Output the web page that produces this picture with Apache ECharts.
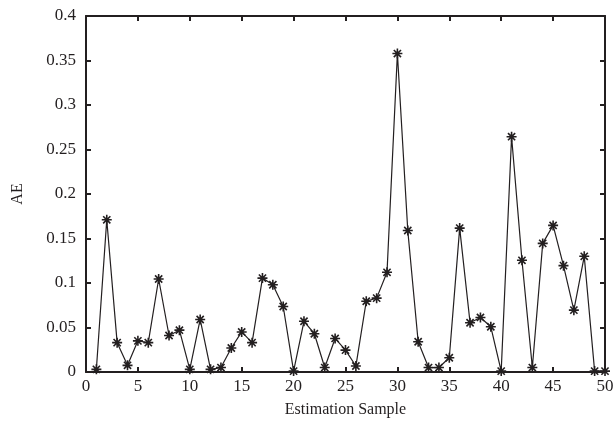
<!DOCTYPE html>
<html>
<head>
<meta charset="utf-8">
<script src="https://cdn.jsdelivr.net/npm/echarts@6/dist/echarts.min.js"></script>
<style>
  html, body { margin: 0; padding: 0; background: #fff; }
  #chart { width: 615px; height: 430px; }
</style>
</head>
<body>
<div id="chart"></div>
<script>
  // samples 1..50 and their absolute error
  const samples = [];
  for (let i = 1; i <= 50; i++) samples.push(i);
  const aeValues = [
    0.003, 0.171, 0.033, 0.0075, 0.035, 0.033, 0.1045, 0.041, 0.047, 0.003,
    0.059, 0.003, 0.005, 0.027, 0.045, 0.033, 0.1055, 0.098, 0.0736, 0.001,
    0.057, 0.043, 0.005, 0.0377, 0.0246, 0.0067, 0.0795, 0.083, 0.112, 0.3578,
    0.159, 0.034, 0.005, 0.005, 0.016, 0.1617, 0.0553, 0.0613, 0.0508, 0.001,
    0.2644, 0.1255, 0.005, 0.1445, 0.1647, 0.1195, 0.0695, 0.13, 0.001, 0.001
  ];

  const font = '"Liberation Serif", "DejaVu Serif", serif';
  const ink = '#231f20';
  const asterisk = 'path://M-1,0L1,0M0,-1L0,1M-0.72,-0.72L0.72,0.72M0.72,-0.72L-0.72,0.72';

  const frameAxis = {
    axisLine: { show: true, onZero: false, lineStyle: { color: ink, width: 2 } },
    axisTick: { show: true, inside: true, length: 5, lineStyle: { color: ink, width: 2 } },
    splitLine: { show: false }
  };

  const chart = echarts.init(document.getElementById('chart'));
  chart.setOption({
    animation: false,
    grid: { left: 86, right: 10, top: 16, bottom: 58, outerBoundsMode: 'none', containLabel: false },
    xAxis: [
      Object.assign({
        type: 'value', min: 0, max: 50, interval: 5,
        name: 'Estimation Sample', nameLocation: 'middle', nameGap: 30,
        nameTextStyle: { fontFamily: font, fontSize: 16, color: ink },
        axisLabel: { fontFamily: font, fontSize: 17, color: ink, margin: 6 }
      }, frameAxis),
      Object.assign({
        type: 'value', min: 0, max: 50, interval: 5, position: 'top',
        axisLabel: { show: false }
      }, frameAxis)
    ],
    yAxis: [
      Object.assign({
        type: 'value', min: 0, max: 0.4, interval: 0.05,
        name: 'AE', nameLocation: 'middle', nameGap: 60, nameRotate: 90,
        nameTextStyle: { fontFamily: font, fontSize: 16, color: ink },
        axisLabel: { fontFamily: font, fontSize: 17, color: ink, margin: 10 }
      }, frameAxis),
      Object.assign({
        type: 'value', min: 0, max: 0.4, interval: 0.05, position: 'right',
        axisLabel: { show: false }
      }, frameAxis)
    ],
    series: [{
      type: 'line',
      data: samples.map((s, i) => [s, aeValues[i]]),
      symbol: asterisk,
      symbolSize: 10,
      showAllSymbol: true,
      clip: false,
      lineStyle: { color: ink, width: 1.2 },
      itemStyle: { color: ink, borderColor: ink, borderWidth: 1.6 }
    }]
  });
</script>
</body>
</html>
